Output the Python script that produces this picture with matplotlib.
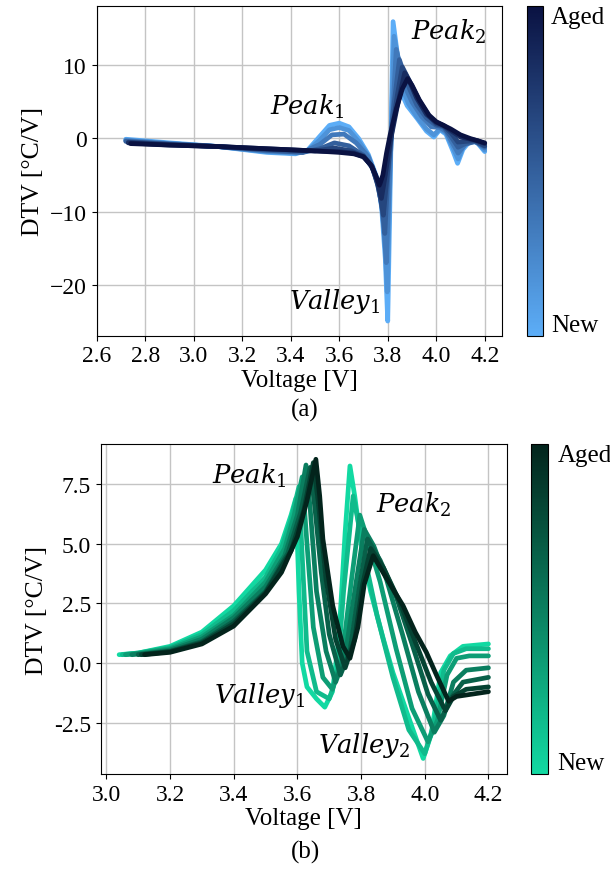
import matplotlib.pyplot as plt
import matplotlib as mpl
from matplotlib.colors import LinearSegmentedColormap, Normalize

plt.rcParams['font.family'] = ['Liberation Serif', 'DejaVu Serif']
plt.rcParams['mathtext.fontset'] = 'dejavuserif'
plt.rcParams['axes.unicode_minus'] = True

# (a) DTV curves, index 0 = new cell ... last = aged cell
volt_a = [
    [2.72, 2.9, 3.1, 3.3, 3.42, 3.47, 3.52, 3.56, 3.6, 3.64, 3.68, 3.72, 3.76, 3.775, 3.79, 3.80,
     3.811, 3.822, 3.84, 3.86, 3.88, 3.92, 3.96, 3.99, 4.015, 4.04, 4.07, 4.088, 4.11, 4.14, 4.17, 4.2],
    [2.72, 2.9, 3.1, 3.3, 3.42, 3.47, 3.52, 3.56, 3.6, 3.64, 3.68, 3.72, 3.76, 3.778, 3.79, 3.798,
     3.81, 3.826, 3.845, 3.865, 3.885, 3.92, 3.96, 3.99, 4.015, 4.04, 4.07, 4.09, 4.11, 4.14, 4.17, 4.2],
    [2.72, 2.9, 3.1, 3.3, 3.45, 3.52, 3.57, 3.62, 3.67, 3.72, 3.755, 3.775, 3.785, 3.794, 3.81,
     3.835, 3.855, 3.875, 3.9, 3.94, 3.98, 4.015, 4.04, 4.07, 4.09, 4.12, 4.16, 4.2],
    [2.72, 2.9, 3.1, 3.3, 3.45, 3.52, 3.58, 3.64, 3.7, 3.74, 3.765, 3.778, 3.788, 3.80, 3.82,
     3.848, 3.868, 3.89, 3.92, 3.96, 4.0, 4.03, 4.06, 4.09, 4.12, 4.16, 4.2],
    [2.73, 2.9, 3.1, 3.3, 3.5, 3.58, 3.65, 3.7, 3.735, 3.76, 3.772, 3.782, 3.795, 3.815, 3.84,
     3.86, 3.88, 3.9, 3.93, 3.97, 4.0, 4.03, 4.06, 4.09, 4.12, 4.16, 4.2],
    [2.73, 2.9, 3.1, 3.3, 3.5, 3.6, 3.66, 3.7, 3.735, 3.755, 3.774, 3.79, 3.81, 3.84, 3.87,
     3.89, 3.92, 3.96, 4.0, 4.03, 4.06, 4.1, 4.14, 4.17, 4.2],
    [2.74, 2.9, 3.1, 3.3, 3.5, 3.6, 3.66, 3.7, 3.73, 3.75, 3.766, 3.78, 3.795, 3.81, 3.835,
     3.86, 3.882, 3.9, 3.93, 3.97, 4.0, 4.03, 4.06, 4.1, 4.14, 4.17, 4.2],
]
dtv_a = [
    [-0.1, -0.6, -1.1, -1.9, -2.1, -1.6, 0.3, 1.8, 2.1, 1.6, 0.0, -2.2, -5.8, -9.5, -16.5, -25.0,
     -5.0, 16.0, 11.5, 6.0, 4.5, 2.8, 1.0, 0.2, 1.2, 0.6, -1.8, -3.4, -1.5, -0.3, -0.6, -1.8],
    [-0.2, -0.7, -1.1, -1.8, -2.0, -1.7, -0.2, 1.2, 1.5, 1.1, -0.4, -2.4, -6.0, -10.0, -15.0, -21.0,
     -4.0, 14.0, 10.5, 6.5, 4.8, 3.0, 1.3, 0.5, 1.3, 0.8, -1.3, -2.8, -1.2, -0.2, -0.5, -1.6],
    [-0.3, -0.7, -1.1, -1.7, -1.9, -0.8, 0.5, 0.6, -0.6, -2.5, -5.8, -9.0, -12.5, -17.0, -3.0,
     12.2, 9.5, 6.8, 5.0, 3.0, 1.6, 1.5, 1.0, -0.8, -2.0, -0.8, -0.4, -1.3],
    [-0.4, -0.8, -1.1, -1.6, -1.9, -1.4, -0.6, -1.0, -2.3, -4.2, -6.8, -9.5, -13.0, -5.5, 3.0,
     10.8, 8.8, 6.8, 4.6, 2.8, 1.8, 1.6, 0.3, -1.2, -0.7, -0.4, -1.1],
    [-0.5, -0.8, -1.1, -1.5, -1.7, -1.3, -1.7, -2.4, -3.8, -6.5, -8.5, -10.5, -6.0, 0.5, 6.0,
     9.8, 8.5, 7.2, 5.2, 3.1, 2.0, 1.7, 0.8, -0.5, -0.4, -0.3, -1.0],
    [-0.6, -0.9, -1.1, -1.4, -1.7, -1.8, -2.0, -2.5, -3.8, -5.6, -8.2, -5.0, -0.5, 4.5, 9.0,
     7.8, 5.5, 3.3, 2.2, 1.8, 1.1, 0.2, -0.1, -0.3, -0.7],
    [-0.7, -0.9, -1.1, -1.4, -1.7, -1.9, -2.1, -2.5, -3.6, -5.0, -6.4, -5.0, -2.0, 0.5, 4.0,
     6.8, 8.2, 7.3, 5.3, 3.2, 2.3, 1.8, 1.3, 0.5, 0.0, -0.3, -0.6],
]

# (b) DTV curves, index 0 = new cell ... last = aged cell
volt_b = [
    [3.04, 3.1, 3.2, 3.3, 3.4, 3.5, 3.55, 3.58, 3.595, 3.605, 3.615, 3.63, 3.66, 3.686, 3.71,
     3.73, 3.75, 3.765, 3.78, 3.80, 3.83, 3.87, 3.90, 3.95, 3.995, 4.02, 4.05, 4.08, 4.12, 4.2],
    [3.05, 3.1, 3.2, 3.3, 3.4, 3.5, 3.55, 3.58, 3.605, 3.615, 3.63, 3.66, 3.7, 3.725, 3.745,
     3.775, 3.79, 3.81, 3.85, 3.9, 3.95, 4.0, 4.03, 4.06, 4.09, 4.13, 4.2],
    [3.06, 3.1, 3.2, 3.3, 3.4, 3.5, 3.56, 3.59, 3.615, 3.63, 3.65, 3.68, 3.71, 3.74, 3.77,
     3.796, 3.82, 3.86, 3.91, 3.96, 4.01, 4.04, 4.07, 4.1, 4.14, 4.2],
    [3.08, 3.15, 3.2, 3.3, 3.4, 3.5, 3.56, 3.6, 3.627, 3.64, 3.66, 3.69, 3.72, 3.75, 3.78,
     3.81, 3.84, 3.88, 3.93, 3.98, 4.03, 4.06, 4.09, 4.13, 4.2],
    [3.1, 3.2, 3.3, 3.4, 3.5, 3.57, 3.61, 3.64, 3.655, 3.675, 3.7, 3.735, 3.765, 3.795, 3.82,
     3.86, 3.91, 3.96, 4.01, 4.05, 4.08, 4.12, 4.2],
    [3.11, 3.2, 3.3, 3.4, 3.5, 3.58, 3.62, 3.65, 3.665, 3.69, 3.72, 3.75, 3.78, 3.805, 3.83,
     3.87, 3.92, 3.97, 4.02, 4.065, 4.09, 4.13, 4.2],
    [3.12, 3.2, 3.3, 3.4, 3.5, 3.55, 3.6, 3.63, 3.658, 3.67, 3.68, 3.711, 3.743, 3.765, 3.79,
     3.81, 3.838, 3.86, 3.9, 3.932, 3.97, 4.005, 4.04, 4.075, 4.1, 4.15, 4.2],
]
dtv_b = [
    [0.35, 0.42, 0.7, 1.3, 2.4, 3.9, 5.0, 6.2, 6.9, 3.0, 0.0, -1.0, -1.5, -1.85, -1.2,
     1.0, 5.5, 8.26, 7.0, 5.0, 3.0, 1.0, -0.4, -2.3, -4.0, -3.0, -0.4, 0.3, 0.7, 0.8],
    [0.35, 0.42, 0.65, 1.2, 2.2, 3.6, 4.8, 6.0, 7.4, 4.5, 0.5, -1.2, -1.5, -0.5, 3.0,
     7.0, 6.0, 4.5, 2.0, -0.6, -2.8, -3.8, -2.5, -0.3, 0.4, 0.6, 0.6],
    [0.35, 0.4, 0.6, 1.1, 2.0, 3.4, 4.8, 6.2, 7.8, 5.0, 1.5, -0.6, -1.1, 0.2, 3.5,
     6.2, 5.2, 3.4, 0.6, -1.9, -3.3, -2.4, -0.5, 0.2, 0.3, 0.3],
    [0.35, 0.45, 0.55, 1.0, 1.9, 3.2, 4.5, 6.2, 8.3, 6.5, 3.0, 0.5, -0.8, 0.3, 3.0,
     5.6, 4.9, 3.5, 1.2, -1.2, -2.9, -2.2, -0.8, -0.3, -0.2],
    [0.35, 0.5, 0.9, 1.75, 3.0, 4.6, 6.3, 8.2, 6.5, 3.8, 1.2, -0.5, 0.5, 3.2, 5.2,
     4.3, 2.8, 0.8, -1.3, -2.4, -1.5, -0.8, -0.6],
    [0.35, 0.48, 0.85, 1.65, 2.95, 4.7, 6.4, 8.4, 6.8, 3.5, 1.0, -0.2, 1.0, 3.3, 4.8,
     4.0, 2.6, 0.9, -0.8, -2.0, -1.4, -1.1, -1.0],
    [0.35, 0.45, 0.8, 1.55, 2.9, 3.8, 5.3, 6.8, 8.54, 7.0, 5.2, 2.4, 0.7, 0.2, 1.5,
     3.3, 4.5, 4.0, 3.1, 2.4, 1.3, 0.45, -0.6, -1.6, -1.4, -1.3, -1.2],
]

labels_a = [(r'$Peak_1$', 3.47, 4.4), (r'$Peak_2$', 4.05, 14.7), (r'$Valley_1$', 3.58, -22.2)]
labels_b = [(r'$Peak_1$', 3.45, 7.9), (r'$Peak_2$', 3.965, 6.65),
            (r'$Valley_1$', 3.48, -1.3), (r'$Valley_2$', 3.81, -3.4)]

cmap_a = LinearSegmentedColormap.from_list('blues_age', ['#5cadf7', '#0a1242'])
cmap_b = LinearSegmentedColormap.from_list('greens_age', ['#12d9a2', '#03241c'])

fig = plt.figure(figsize=(6.1, 8.7), dpi=100)


def draw_panel(ax_rect, cb_rect, volts, dtvs, cmap, labels, xlim, xticks, yticks, tag, tag_y):
    ax = fig.add_axes(ax_rect)
    n = len(volts)
    for i in range(n):
        ax.plot(volts[i], dtvs[i], color=cmap(i / (n - 1)), lw=3.4,
                solid_joinstyle='round', solid_capstyle='round')
    ax.grid(True, color='#c4c4c4', lw=1.0)
    ax.set_axisbelow(True)
    ax.set_xlim(*xlim)
    ax.set_xticks(xticks)
    ax.set_yticks(yticks)
    ax.tick_params(labelsize=17)
    ax.set_xlabel('Voltage [V]', fontsize=18, labelpad=2)
    ax.set_ylabel('DTV [°C/V]', fontsize=18.5)
    for txt, x, y in labels:
        ax.text(x, y, txt, fontsize=18.5, ha='center', va='center')

    cax = fig.add_axes(cb_rect)
    sm = mpl.cm.ScalarMappable(norm=Normalize(0, 1), cmap=cmap)
    cb = fig.colorbar(sm, cax=cax)
    cb.set_ticks([])
    cax.text(1.55, 1.0, 'Aged', transform=cax.transAxes, fontsize=18, va='top', ha='left')
    cax.text(1.55, 0.0, 'New', transform=cax.transAxes, fontsize=18, va='bottom', ha='left')

    fig.text(0.5, tag_y, tag, fontsize=18, ha='center', va='center')
    return ax


ax_a = draw_panel([0.1585, 0.613, 0.664, 0.3786], [0.8644, 0.613, 0.0252, 0.3786],
                  volt_a, dtv_a, cmap_a, labels_a, (2.6, 4.27),
                  [2.6, 2.8, 3.0, 3.2, 3.4, 3.6, 3.8, 4.0, 4.2], [-20, -10, 0, 10], '(a)', 0.528)
ax_a.set_ylim(-27.0, 18.1)

ax_b = draw_panel([0.165, 0.1092, 0.666, 0.3793], [0.8705, 0.1092, 0.0279, 0.3793],
                  volt_b, dtv_b, cmap_b, labels_b, (2.982, 4.258),
                  [3.0, 3.2, 3.4, 3.6, 3.8, 4.0, 4.2], [-2.5, 0.0, 2.5, 5.0, 7.5], '(b)', 0.02)
ax_b.set_ylim(-4.65, 9.18)
ax_b.yaxis.set_major_formatter(mpl.ticker.FormatStrFormatter('%.1f'))
ax_b.xaxis.set_major_formatter(mpl.ticker.FormatStrFormatter('%.1f'))
ax_a.xaxis.set_major_formatter(mpl.ticker.FormatStrFormatter('%.1f'))

fig.savefig('out.png', dpi=100)
